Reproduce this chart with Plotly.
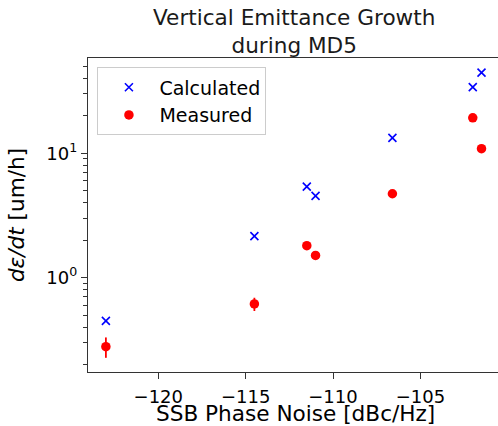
import plotly.graph_objects as go

# Data
calc_x = [-123.0, -114.5, -111.5, -111.0, -106.6, -102.0, -101.5]
calc_y = [0.45, 2.16, 5.4, 4.55, 13.3, 34.0, 44.5]

meas_x = [-123.0, -114.5, -111.5, -111.0, -106.6, -102.0, -101.5]
meas_y = [0.279, 0.615, 1.81, 1.51, 4.73, 19.3, 10.9]
meas_err = [0.052, 0.075, 0.04, 0.04, 0.1, 0.3, 0.2]

x_ticks = [-120, -115, -110, -105]
y_ticks = [1, 10]
y_ticktext = ["10<sup>0</sup>", "10<sup>1</sup>"]
y_minor = [0.2, 0.3, 0.4, 0.5, 0.6, 0.7, 0.8, 0.9,
           2, 3, 4, 5, 6, 7, 8, 9, 20, 30, 40, 50]

FONT = "DejaVu Sans"
L, T, B = 88, 58, 54
PLOT_W = 498 - L
PLOT_H = 426 - T - B


def py(pix):
    """pixel row -> paper fraction"""
    return (426 - B - pix) / PLOT_H


def px(pix):
    return (pix - L) / PLOT_W


fig = go.Figure()
fig.add_trace(go.Scatter(
    x=calc_x, y=calc_y, mode="markers", name="Calculated",
    marker=dict(symbol="x-thin", size=8, color="#0000ff",
                line=dict(color="#0000ff", width=1.6)),
))
fig.add_trace(go.Scatter(
    x=meas_x, y=meas_y, mode="markers", name="Measured",
    marker=dict(symbol="circle", size=9.5, color="#ff0000"),
    error_y=dict(type="data", array=meas_err, color="#ff0000",
                 thickness=1.8, width=0, visible=True),
))

fig.update_layout(
    width=498, height=426,
    margin=dict(l=L, r=0, t=T, b=B),
    paper_bgcolor="white", plot_bgcolor="white",
    font=dict(family=FONT, size=18, color="#000000"),
    showlegend=True,
    legend=dict(x=0.023, y=0.97, xanchor="left", yanchor="top",
                bgcolor="rgba(255,255,255,0.8)", bordercolor="#cccccc",
                borderwidth=1, font=dict(family=FONT, size=19),
                itemwidth=51, tracegroupgap=0),
    annotations=[
        dict(text="Vertical Emittance Growth<br>during MD5",
             xref="paper", yref="paper", x=px(294), y=py(3),
             xanchor="center", yanchor="top",
             showarrow=False, align="center",
             font=dict(family=FONT, size=21.6, color="#1a1a1a")),
        dict(text="SSB Phase Noise [dBc/Hz]",
             xref="paper", yref="paper", x=px(295), y=py(413),
             xanchor="center", yanchor="middle", borderpad=0,
             showarrow=False, font=dict(family=FONT, size=21.6, color="#000000")),
    ],
)

fig.update_xaxes(
    type="linear", range=[-124.024, -100.556], automargin=False,
    tickmode="array", tickvals=x_ticks,
    ticks="outside", ticklen=6, tickwidth=1.2, tickcolor="#333333",
    ticklabelstandoff=2,
    showline=True, linecolor="#333333", linewidth=1.4, mirror=True,
    showgrid=False, zeroline=False,
    tickfont=dict(family=FONT, size=18),
)
fig.update_yaxes(
    type="log", range=[-0.758, 1.766], automargin=False,
    tickmode="array", tickvals=y_ticks, ticktext=y_ticktext,
    ticks="outside", ticklen=6, tickwidth=1.2, tickcolor="#333333",
    minor=dict(tickmode="array", tickvals=y_minor, ticks="outside",
               ticklen=3.5, tickwidth=1, tickcolor="#333333", showgrid=False),
    showline=True, linecolor="#333333", linewidth=1.4, mirror=False,
    showgrid=False, zeroline=False,
    tickfont=dict(family=FONT, size=18),
    title=dict(text="<i>dε/dt</i> [um/h]",
               font=dict(family=FONT, size=21.6, color="#000000")),
)

fig.write_html("out.html")
